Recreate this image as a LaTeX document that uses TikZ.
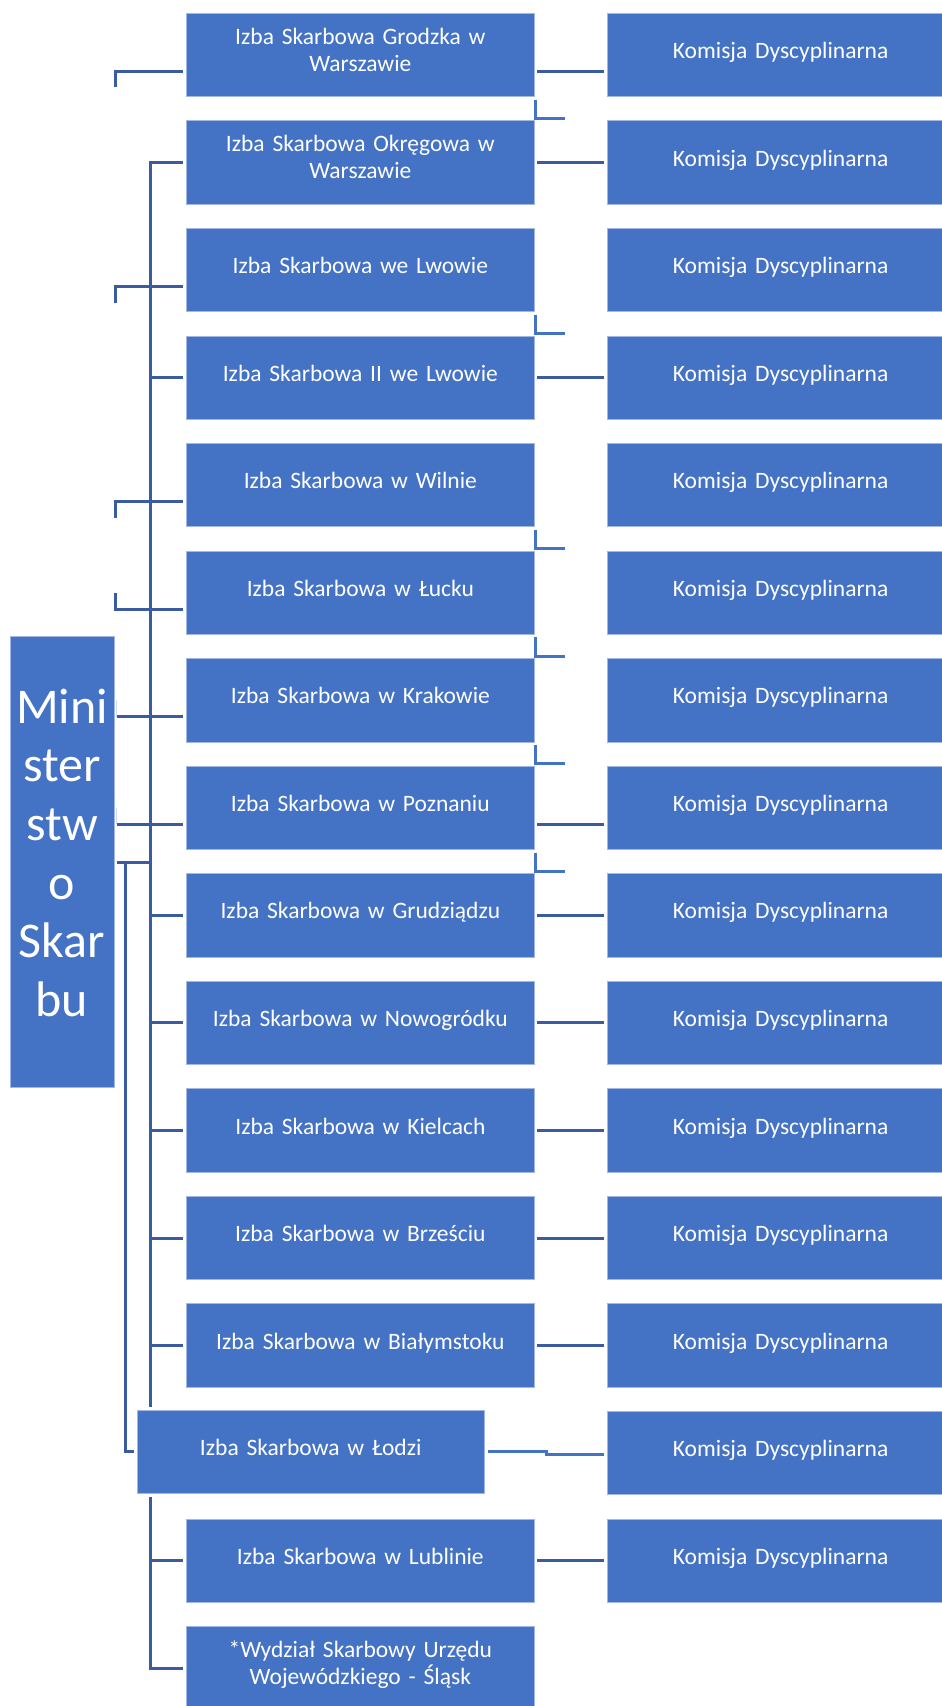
\documentclass[tikz,border=0pt]{standalone}
\usepackage{fontspec}
\setmainfont{Carlito}
\definecolor{boxfill}{HTML}{4472C4}
\definecolor{boxedge}{HTML}{A2B7E1}
\definecolor{conn}{HTML}{3A5C9E}
\definecolor{faint}{HTML}{CFDAF0}
\tikzset{
  box/.style={rectangle, fill=boxfill, draw=boxedge, line width=0.9pt,
    minimum width=347.3pt, minimum height=83.4pt, inner sep=0pt,
    text width=340pt, align=center, text=white,
    font=\fontsize{23.5pt}{26.7pt}\selectfont},
  one/.style={text height=17pt, text depth=10pt},
  two/.style={text height=5pt, text depth=26.4pt},
  link/.style={draw=conn, line width=3pt},
  ell/.style={draw=boxfill, line width=3pt},
  ghost/.style={draw=faint, line width=1pt},
}
\begin{document}
\begin{tikzpicture}[x=1pt,y=-1pt]
\useasboundingbox (0,0) rectangle (942,1706);
% Ministerstwo
\node[box, minimum width=104pt, minimum height=450.6pt, text width=104pt,
      font=\fontsize{50pt}{58.7pt}\selectfont, text height=12pt, text depth=290pt]
      (m) at (62,862) {Mini\\ster\\stw\\o\\Skar\\bu};
% left column
\node[box,two] (l0)  at (360.35,55)      {Izba Skarbowa Grodzka w\\Warszawie};
\node[box,two] (l1)  at (360.35,162.55)  {Izba Skarbowa Okręgowa w\\Warszawie};
\node[box,one] (l2)  at (360.35,270.1)   {Izba Skarbowa we Lwowie};
\node[box,one] (l3)  at (360.35,377.65)  {Izba Skarbowa II we Lwowie};
\node[box,one] (l4)  at (360.35,485.2)   {Izba Skarbowa w Wilnie};
\node[box,one] (l5)  at (360.35,592.75)  {Izba Skarbowa w Łucku};
\node[box,one] (l6)  at (360.35,700.3)   {Izba Skarbowa w Krakowie};
\node[box,one] (l7)  at (360.35,807.85)  {Izba Skarbowa w Poznaniu};
\node[box,one] (l8)  at (360.35,915.4)   {Izba Skarbowa w Grudziądzu};
\node[box,one] (l9)  at (360.35,1022.95) {Izba Skarbowa w Nowogródku};
\node[box,one] (l10) at (360.35,1130.5)  {Izba Skarbowa w Kielcach};
\node[box,one] (l11) at (360.35,1238.05) {Izba Skarbowa w Brześciu};
\node[box,one] (l12) at (360.35,1345.6)  {Izba Skarbowa w Białymstoku};
\node[box,one] (lodz) at (310.75,1451.7) {Izba Skarbowa w Łodzi};
\node[box,one] (l14) at (360.35,1560.7)  {Izba Skarbowa w Lublinie};
\node[box,two] (wyd) at (360.35,1668.25) {*Wydział Skarbowy Urzędu\\Wojewódzkiego - Śląsk};
% right column
\foreach \i/\y in {0/55,1/162.55,2/270.1,3/377.65,4/485.2,5/592.75,6/700.3,7/807.85,
                   8/915.4,9/1022.95,10/1130.5,11/1238.05,12/1345.6,13/1453.2,14/1560.7}
  \node[box,one] (r\i) at (780.65,\y) {Komisja Dyscyplinarna};
% left brackets
\coordinate (f0) at (115.5,87.3);
\coordinate (f2) at (115.5,303.3);
\coordinate (f4) at (115.5,518.2);
\coordinate (f5) at (115.5,593.3);
\draw[link, shorten >=3pt] (f0) |- (l0.west |- 0,71.5);
\draw[link, shorten >=3pt] (f2) |- (l2.west |- 0,286.6);
\draw[link, shorten >=3pt] (f4) |- (l4.west |- 0,501.7);
\draw[link, shorten >=3pt] (f5) |- (l5.west |- 0,609.2);
% faint stubs
\coordinate (g6) at (116.7,700.3);
\coordinate (g7) at (116.7,807.9);
\draw[ghost] (g6) -- (g6 |- 0,716.8);
\draw[ghost] (g7) -- (g7 |- 0,824.3);
% lines from Ministerstwo
\draw[link, shorten <=2.5pt, shorten >=3pt] (m.east |- 0,716.8) -- (l6.west |- 0,716.8);
\draw[link, shorten <=2.5pt, shorten >=3pt] (m.east |- 0,824.3) -- (l7.west |- 0,824.3);
% trunk
\coordinate (tb) at (150.3,1406.7);
\draw[link, shorten <=3pt] (l1.west) -| (tb);
\foreach \n in {3,8,9,10,11,12}
  \draw[link, shorten >=3pt] (l\n.west -| tb) -- (l\n.west);
\draw[link, shorten <=2.5pt] (m.east |- 0,862.3) -- (tb |- 0,862.3);
\coordinate (s0) at (125.3,862.3);
\draw[link, shorten >=3pt] (s0) |- (lodz.west);
\coordinate (s1) at (150.3,1496.7);
\draw[link, shorten >=3pt] (s1) |- (wyd.west);
\draw[link, shorten >=3pt] (l14.west -| s1) -- (l14.west);
% right connectors
\draw[link, shorten <=3pt, shorten >=3pt] (l0.east |- 0,71.5) -- (r0.west |- 0,71.5);
\draw[link, shorten <=3pt, shorten >=3pt] (l7.east |- 0,824.3) -- (r7.west |- 0,824.3);
\foreach \n in {1,3,8,9,10,11,12,14}
  \draw[link, shorten <=3pt, shorten >=3pt] (l\n.east) -- (r\n.west);
\coordinate (j1) at (546,1451.7);
\coordinate (j2) at (546,1454);
\draw[ell, shorten <=3pt, shorten >=3pt] (lodz.east) -- (j1) -- (j2) -- (r13.west |- j2);
% small L marks
\foreach \n in {0,2,4,5,6,7}
  \draw[ell] ([xshift=1pt]l\n.south east) ++(0,2.5) -- ++(0,19) -- ++(29.7,0);
\end{tikzpicture}
\end{document}
